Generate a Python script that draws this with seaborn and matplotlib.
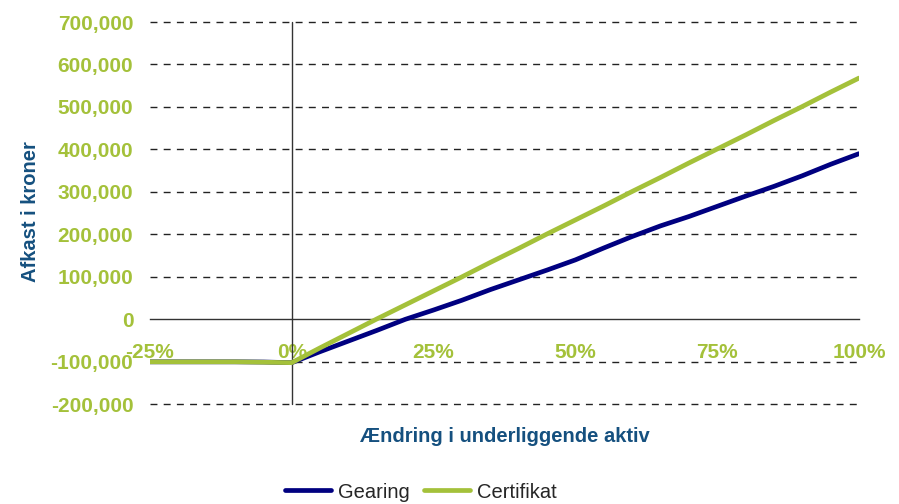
import pandas as pd
import matplotlib.pyplot as plt
import seaborn as sns

# Data (change in underlying asset, % -> return in DKK)
aendring = [-25, -20, -15, -10, -5, 0, 5, 10, 15, 20, 25, 30, 35, 40, 45, 50,
            55, 60, 65, 70, 75, 80, 85, 90, 95, 100]
gearing = [-100000, -100000, -100000, -100000, -100500, -102000, -76000, -51000,
           -26000, 0, 22000, 45000, 70000, 93000, 116000, 140000, 168000, 195000,
           220000, 242000, 266000, 290000, 313000, 338000, 365000, 390000]
certifikat = [-100000, -100000, -100000, -100000, -101000, -102000, -67000, -33000,
              1000, 34000, 67000, 100000, 134000, 167000, 201000, 234000, 267000,
              301000, 334000, 368000, 401000, 434000, 468000, 501000, 535000, 568000]
x_ticks = [-25, 0, 25, 50, 75, 100]
y_ticks = [-200000, -100000, 0, 100000, 200000, 300000, 400000, 500000, 600000, 700000]

green = '#a4c13a'
navy = '#000080'
label_blue = '#15507f'

sns.set_style('white')
plt.rcParams['font.family'] = ['Liberation Sans', 'DejaVu Sans']

df = pd.DataFrame({
    'Aendring': aendring * 2,
    'Afkast': gearing + certifikat,
    'Serie': ['Gearing'] * len(aendring) + ['Certifikat'] * len(aendring),
})

fig = plt.figure(figsize=(8.99, 5.04), dpi=100)
ax = fig.add_axes([150 / 899, 1 - 404.3 / 504, (859 - 150) / 899, (404.3 - 22) / 504])

# dashed gridlines (not at zero, that one is the solid axis)
for v in y_ticks:
    if v != 0:
        ax.axhline(v, color='#222222', lw=1.0, ls=(0, (5, 4.5)), zorder=1, clip_on=False)
ax.axvline(0, color='#333333', lw=1.0, zorder=1, clip_on=False)

sns.lineplot(data=df, x='Aendring', y='Afkast', hue='Serie',
             palette={'Gearing': navy, 'Certifikat': green},
             linewidth=3.4, ax=ax, legend=False, zorder=3)

ax.set_xlim(-25, 100)
ax.set_ylim(-200000, 700000)

# x axis sits on the zero line
ax.spines['bottom'].set_position(('data', 0))
ax.spines['bottom'].set_color('#333333')
ax.spines['bottom'].set_linewidth(1.0)
for s in ['left', 'right', 'top']:
    ax.spines[s].set_visible(False)

ax.set_xticks(x_ticks)
ax.set_xticklabels([f'{t}%' for t in x_ticks])
ax.tick_params(axis='x', direction='out', length=4, width=1, color='#333333',
               pad=13, labelsize=15, labelcolor=green)
for lbl in ax.get_xticklabels():
    lbl.set_fontweight('bold')

ax.set_yticks(y_ticks)
ax.set_yticklabels([f'{t:,}' for t in y_ticks])
ax.tick_params(axis='y', length=0, pad=12, labelsize=15, labelcolor=green)
for lbl in ax.get_yticklabels():
    lbl.set_fontweight('bold')

ax.set_xlabel('')
ax.set_ylabel('')
fig.text(30 / 899, 1 - 212 / 504, 'Afkast i kroner', rotation=90, ha='center',
         va='center', fontsize=14.5, fontweight='bold', color=label_blue)
fig.text(505 / 899, 1 - 437 / 504, 'Ændring i underliggende aktiv', ha='center',
         va='center', fontsize=14.5, fontweight='bold', color=label_blue)

handles = [plt.Line2D([], [], color=navy, lw=3.4), plt.Line2D([], [], color=green, lw=3.4)]
fig.legend(handles, ['Gearing', 'Certifikat'], loc='center', ncol=2,
           bbox_to_anchor=(421 / 899, 1 - 492 / 504), frameon=False,
           fontsize=14.5, handlelength=2.3, handletextpad=0.35, columnspacing=0.7)

fig.savefig('out.png', dpi=100)
